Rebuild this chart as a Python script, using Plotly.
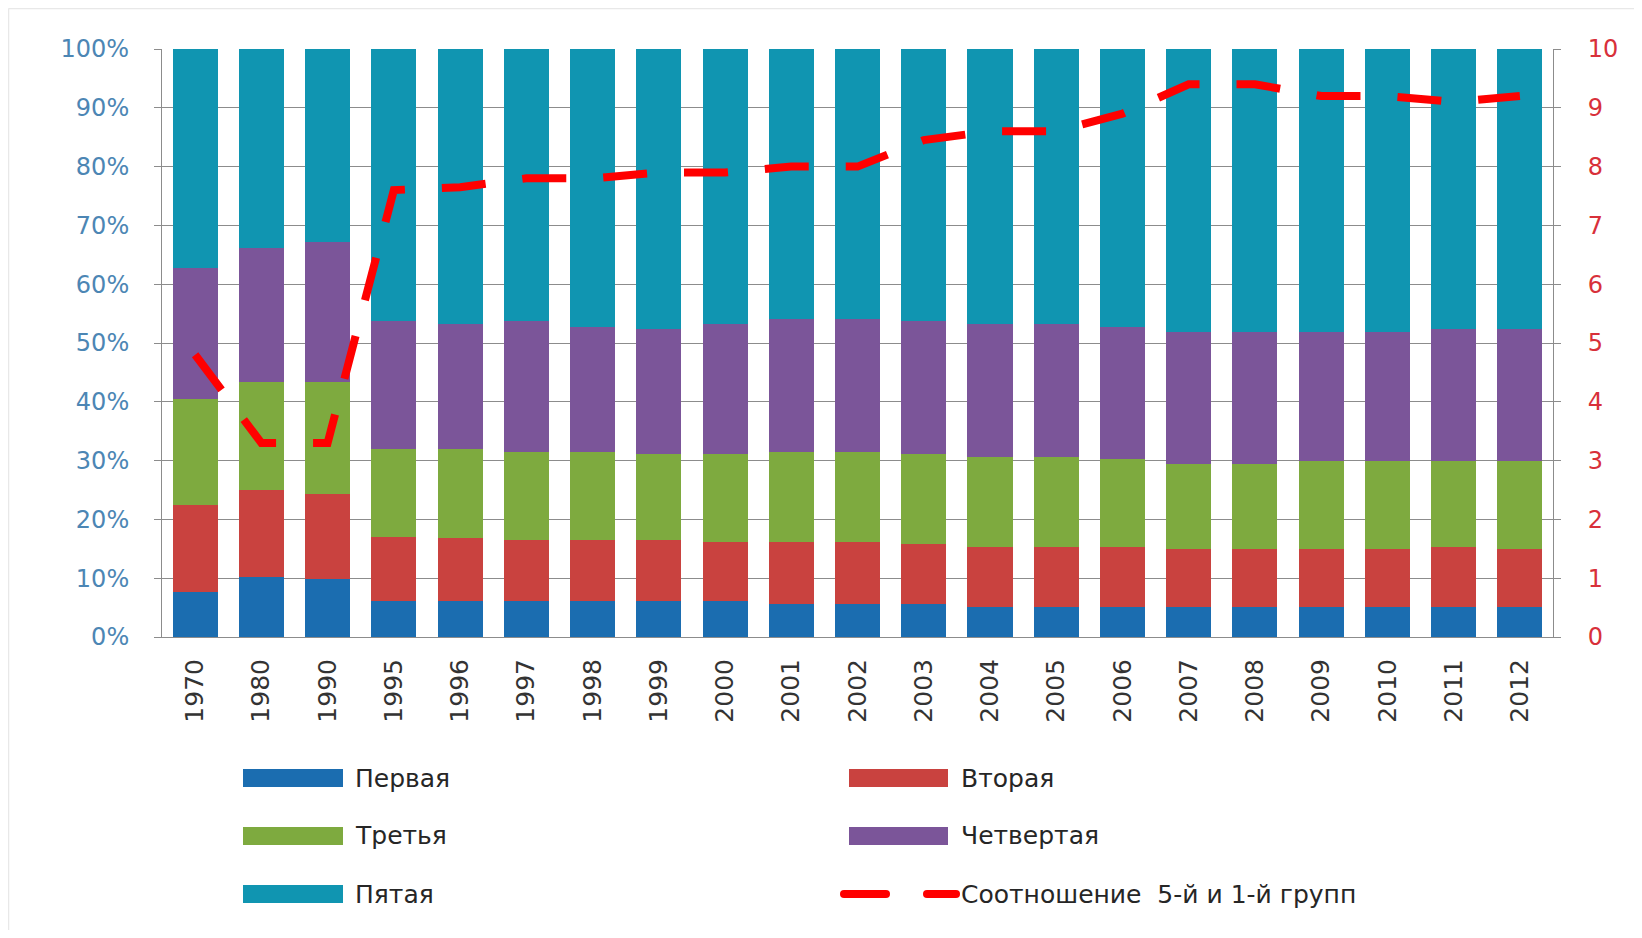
import plotly.graph_objects as go

years = ["1970", "1980", "1990", "1995", "1996", "1997", "1998", "1999", "2000",
         "2001", "2002", "2003", "2004", "2005", "2006", "2007", "2008", "2009",
         "2010", "2011", "2012"]

# shares of quintile groups, %
first = [7.7, 10.2, 9.9, 6.2, 6.2, 6.1, 6.1, 6.1, 6.1, 5.6, 5.6, 5.6, 5.1, 5.1,
         5.1, 5.1, 5.1, 5.1, 5.1, 5.1, 5.1]
second = [14.7, 14.8, 14.5, 10.8, 10.6, 10.4, 10.4, 10.4, 10.1, 10.6, 10.6, 10.2,
          10.2, 10.2, 10.2, 9.8, 9.8, 9.8, 9.8, 10.2, 9.8]
third = [18.0, 18.4, 19.0, 14.9, 15.1, 15.0, 15.0, 14.6, 14.9, 15.3, 15.3, 15.3,
         15.3, 15.3, 14.9, 14.6, 14.6, 15.0, 15.0, 14.6, 15.0]
fourth = [22.4, 22.8, 23.7, 21.8, 21.3, 22.2, 21.2, 21.2, 22.1, 22.6, 22.6, 22.6,
          22.6, 22.6, 22.5, 22.3, 22.3, 21.9, 21.9, 22.4, 22.4]
fifth = [37.2, 33.8, 32.9, 46.3, 46.8, 46.3, 47.3, 47.7, 46.8, 45.9, 45.9, 46.3,
         46.8, 46.8, 47.3, 48.2, 48.2, 48.2, 48.2, 47.7, 47.7]
ratio = [4.8, 3.3, 3.3, 7.6, 7.65, 7.8, 7.8, 7.9, 7.9, 8.0, 8.0, 8.45, 8.6, 8.6,
         8.9, 9.4, 9.4, 9.2, 9.2, 9.1, 9.2]

names = ["Первая", "Вторая", "Третья", "Четвертая", "Пятая"]
colors = ["#1B6DB0", "#C9423F", "#7EAA3F", "#7B5599", "#1095B1"]
series = [first, second, third, fourth, fifth]
ratio_name = "Соотношение  5-й и 1-й групп"
ratio_color = "#FF0000"

fig = go.Figure()
for nm, col, vals in zip(names, colors, series):
    fig.add_trace(go.Bar(x=years, y=vals, name=nm, showlegend=False,
                         marker=dict(color=col, line=dict(width=0))))
fig.add_trace(go.Scatter(x=years, y=ratio, name=ratio_name, yaxis="y2", mode="lines",
                         showlegend=False,
                         line=dict(color=ratio_color, width=8, dash="44px,37px")))

# figure is placed 8px inside the page by the default body margin
W, H = 1626, 922
L, R, T, B = 154, 81, 41, 293
pw, ph = W - L - R, H - T - B


def px_x(x):
    return (x - L) / pw


def px_y(y):
    return (H - B - y) / ph


FONT = "DejaVu Sans, Verdana, sans-serif"
shapes = []
annotations = []

# manual legend: 3 rows x 2 columns
rows_y = [770, 828, 886]
cols = [(235, 335, 345), (841, 940, 951)]
legend_items = [(nm, col, "bar") for nm, col in zip(names, colors)] + [(ratio_name, ratio_color, "line")]
for i, (label, col, kind) in enumerate(legend_items):
    r, c = divmod(i, 2)
    sx0, sx1, tx = cols[c]
    cy = rows_y[r]
    if kind == "bar":
        shapes.append(dict(type="rect", xref="paper", yref="paper",
                           x0=px_x(sx0), x1=px_x(sx1), y0=px_y(cy + 9), y1=px_y(cy - 9),
                           fillcolor=col, line=dict(width=0)))
    else:
        for d0, d1 in [(836, 878), (919, 948)]:
            shapes.append(dict(type="line", xref="paper", yref="paper",
                               x0=px_x(d0), x1=px_x(d1), y0=px_y(cy), y1=px_y(cy),
                               line=dict(color=col, width=8)))
            for dx in (d0, d1):
                shapes.append(dict(type="circle", xref="paper", yref="paper",
                                   x0=px_x(dx - 4), x1=px_x(dx + 4),
                                   y0=px_y(cy + 4), y1=px_y(cy - 4),
                                   fillcolor=col, line=dict(width=0)))
    annotations.append(dict(text=label, xref="paper", yref="paper", x=px_x(tx), y=px_y(cy),
                            xanchor="left", yanchor="middle", showarrow=False,
                            font=dict(family=FONT, size=25, color="#262626")))

# faint chart-area border (top and left edges)
border = "#E8E8E8"
shapes.append(dict(type="line", xref="paper", yref="paper", x0=px_x(0.5), x1=px_x(W),
                   y0=px_y(0.5), y1=px_y(0.5), line=dict(color=border, width=1.5), layer="below"))
shapes.append(dict(type="line", xref="paper", yref="paper", x0=px_x(0.5), x1=px_x(0.5),
                   y0=px_y(0.5), y1=px_y(H), line=dict(color=border, width=1.5), layer="below"))

grid = "#8C8C8C"
fig.update_layout(
    width=W, height=H,
    margin=dict(l=L, r=R, t=T, b=B, autoexpand=False),
    paper_bgcolor="white", plot_bgcolor="white",
    barmode="stack", bargap=0.32, showlegend=False,
    font=dict(family=FONT),
    xaxis=dict(type="category", tickangle=-90, showgrid=False, showline=True,
               linecolor=grid, linewidth=1, ticks="", ticklabelstandoff=11,
               tickfont=dict(family=FONT, size=25, color="#333333")),
    yaxis=dict(range=[0, 100], dtick=10, ticksuffix="%", showgrid=True, gridcolor=grid,
               gridwidth=1, showline=True, linecolor=grid, linewidth=1, ticks="outside",
               ticklen=7, tickcolor=grid, zeroline=False, ticklabelstandoff=20,
               tickfont=dict(family=FONT, size=24, color="#4C86B4")),
    yaxis2=dict(range=[0, 10], dtick=1, overlaying="y", side="right", showgrid=False,
                showline=True, linecolor=grid, linewidth=1, ticks="outside", ticklen=7,
                tickcolor=grid, zeroline=False, ticklabelstandoff=22,
                tickfont=dict(family=FONT, size=24, color="#D8303A")),
    shapes=shapes,
    annotations=annotations,
)

fig.write_html("out.html")
